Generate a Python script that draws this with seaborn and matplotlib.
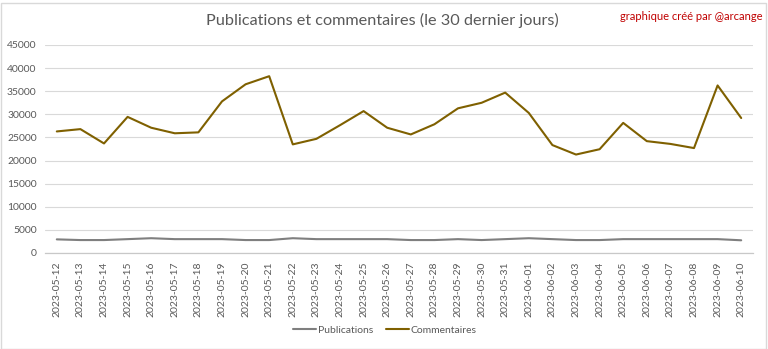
import matplotlib
matplotlib.use("Agg")
import matplotlib.pyplot as plt
import seaborn as sns
import pandas as pd
from matplotlib.patches import Rectangle

dates = ["2023-05-12", "2023-05-13", "2023-05-14", "2023-05-15", "2023-05-16",
         "2023-05-17", "2023-05-18", "2023-05-19", "2023-05-20", "2023-05-21",
         "2023-05-22", "2023-05-23", "2023-05-24", "2023-05-25", "2023-05-26",
         "2023-05-27", "2023-05-28", "2023-05-29", "2023-05-30", "2023-05-31",
         "2023-06-01", "2023-06-02", "2023-06-03", "2023-06-04", "2023-06-05",
         "2023-06-06", "2023-06-07", "2023-06-08", "2023-06-09", "2023-06-10"]
publications = [2950, 2800, 2800, 3000, 3200, 3000, 3000, 3000, 2800, 2800,
                3200, 3000, 3000, 3000, 3000, 2800, 2800, 3000, 2800, 3000,
                3200, 3000, 2800, 2800, 3000, 3000, 3000, 3000, 3000, 2750]
commentaires = [26300, 26800, 23700, 29450, 27100, 25900, 26100, 32800, 36500, 38250,
                23500, 24700, 27650, 30700, 27100, 25650, 27850, 31300, 32500, 34700,
                30300, 23350, 21300, 22450, 28150, 24200, 23600, 22700, 36250, 29200]

series_names = ["Publications", "Commentaires"]
colors = {"Publications": "#7f7f7f", "Commentaires": "#7f6000"}

df = pd.DataFrame({
    "date": dates * 2,
    "value": publications + commentaires,
    "serie": [series_names[0]] * len(dates) + [series_names[1]] * len(dates),
})
df["pos"] = list(range(len(dates))) * 2

sns.set_style("white")
plt.rcParams["font.family"] = ["Lato", "DejaVu Sans"]

fig = plt.figure(figsize=(7.68, 3.49), dpi=100)
ax = fig.add_axes([45 / 768, 1 - 253 / 349, 708 / 768, 208 / 349])

sns.lineplot(data=df, x="pos", y="value", hue="serie", palette=colors,
             hue_order=series_names, linewidth=1.5, ax=ax, legend=False)

ax.set_xlim(-0.5, len(dates) - 0.5)
ax.set_ylim(0, 45000)
ax.set_yticks(range(0, 45001, 5000))
ax.set_yticklabels([str(v) for v in range(0, 45001, 5000)], fontsize=7.5, color="#595959")
ax.set_xticks(range(len(dates)))
ax.set_xticklabels(dates, rotation=90, fontsize=7.5, color="#595959")
ax.tick_params(axis="both", length=0, pad=6)
ax.grid(axis="y", color="#d9d9d9", linewidth=0.8)
ax.grid(axis="x", visible=False)
for s in ["top", "right", "left"]:
    ax.spines[s].set_visible(False)
ax.spines["bottom"].set_color("#c8c8c8")
ax.spines["bottom"].set_linewidth(0.9)
ax.set_xlabel("")
ax.set_ylabel("")

fig.text(382 / 768, 1 - 20 / 349, "Publications et commentaires (le 30 dernier jours)",
         ha="center", va="center", fontsize=11.7, color="#595959")
fig.text(762 / 768, 1 - 17 / 349, "graphique créé par @arcange",
         ha="right", va="center", fontsize=8, color="#c00000")

handles = [plt.Line2D([], [], color=colors[n], linewidth=1.5) for n in series_names]
fig.legend(handles, series_names, loc="center", bbox_to_anchor=(385 / 768, 1 - 330 / 349),
           ncol=2, frameon=False, fontsize=7.5, handlelength=2.2, handletextpad=0.2,
           columnspacing=1.2, labelcolor="#595959")

fig.patches.append(Rectangle((0.5 / 768, 0.5 / 349), 1 - 3 / 768, 1 - 3 / 349,
                             transform=fig.transFigure, fill=False,
                             edgecolor="#d9d9d9", linewidth=1))

fig.savefig("out.png", dpi=100)
